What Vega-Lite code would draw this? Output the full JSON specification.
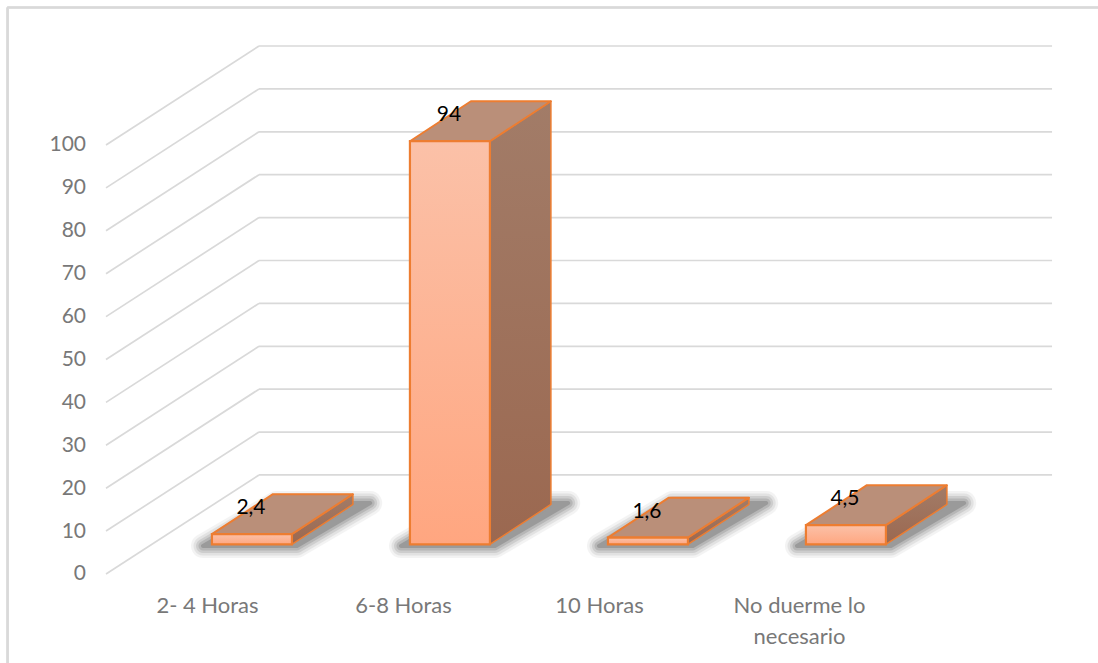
{
  "$schema": "https://vega.github.io/schema/vega-lite/v6.json",
  "width": 1098,
  "height": 663,
  "padding": 0,
  "autosize": {"type": "none"},
  "background": "#ffffff",
  "config": {"view": {"stroke": null}},
  "resolve": {"axis": {"x": "independent", "y": "independent"}},
  "datasets": {
    "horas": [
      {"categoria": "2- 4 Horas", "valor": 2.4},
      {"categoria": "6-8 Horas", "valor": 94},
      {"categoria": "10 Horas", "valor": 1.6},
      {"categoria": "No duerme lo necesario", "valor": 4.5}
    ],
    "marcas": [
      {"marca": 0}, {"marca": 10}, {"marca": 20}, {"marca": 30}, {"marca": 40}, {"marca": 50},
      {"marca": 60}, {"marca": 70}, {"marca": 80}, {"marca": 90}, {"marca": 100}
    ]
  },
  "data": {"name": "horas"},
  "transform": [
    {"window": [{"op": "row_number", "as": "orden"}]},
    {"calculate": "datum.orden - 1 + 0.535", "as": "xIzq"},
    {"calculate": "datum.xIzq + 0.404", "as": "xDer"},
    {"calculate": "6.88", "as": "base"},
    {"calculate": "datum.base + datum.valor", "as": "cima"},
    {"calculate": "[0, 1]", "as": "fondo"},
    {"flatten": ["fondo"]},
    {"calculate": "datum.xIzq + 0.308 * datum.fondo", "as": "xIzqP"},
    {"calculate": "datum.xDer + 0.308 * datum.fondo", "as": "xDerP"},
    {"calculate": "datum.base + 9.32 * datum.fondo", "as": "baseP"},
    {"calculate": "datum.cima + 9.32 * datum.fondo", "as": "cimaP"},
    {"calculate": "datum.xIzq - 0.045 + 0.37 * datum.fondo", "as": "sombraIzq"},
    {"calculate": "datum.xDer + 0.025 + 0.37 * datum.fondo", "as": "sombraDer"},
    {"calculate": "6.53 + 10 * datum.fondo", "as": "sombraY"}
  ],
  "layer": [
    {
      "data": {"name": "marcas"},
      "transform": [
        {"calculate": "datum.marca + 23.08", "as": "marcaFondo"},
        {"calculate": "0", "as": "x0"},
        {"calculate": "0.7727", "as": "x1"}
      ],
      "mark": {"type": "rule", "stroke": "#D9D9D9", "strokeWidth": 1.7},
      "encoding": {
        "x": {
          "field": "x0",
          "type": "quantitative",
          "scale": {"domain": [-0.5354, 5.0101], "nice": false, "zero": false},
          "axis": {
            "title": null,
            "orient": "bottom",
            "offset": -68,
            "values": [0.51, 1.5, 2.49, 3.5],
            "domain": false,
            "ticks": false,
            "grid": false,
            "labelPadding": 0,
            "labelFont": "Lato",
            "labelFontSize": 22,
            "labelColor": "#787878",
            "labelLineHeight": 31,
            "labelOverlap": false,
            "labelBound": false,
            "labelFlush": false,
            "labelExpr": "datum.value < 1 ? '2- 4 Horas' : datum.value < 2 ? '6-8 Horas' : datum.value < 3 ? '10 Horas' : ['No duerme lo', 'necesario']"
          }
        },
        "x2": {"field": "x1"},
        "y": {
          "field": "marca",
          "type": "quantitative",
          "scale": {"domain": [-20.75, 133.8], "nice": false, "zero": false},
          "axis": {
            "title": null,
            "orient": "left",
            "offset": -85.5,
            "values": [0, 10, 20, 30, 40, 50, 60, 70, 80, 90, 100],
            "domain": false,
            "ticks": false,
            "grid": false,
            "labelPadding": 0,
            "labelFont": "Lato",
            "labelFontSize": 21,
            "labelColor": "#787878",
            "labelOverlap": false,
            "labelBound": false,
            "labelFlush": false
          }
        },
        "y2": {"field": "marcaFondo"}
      }
    },
    {
      "data": {"name": "marcas"},
      "transform": [
        {"calculate": "datum.marca + 23.08", "as": "marcaFondo"},
        {"calculate": "0.7727", "as": "x0"},
        {"calculate": "4.778", "as": "x1"}
      ],
      "mark": {"type": "rule", "stroke": "#D9D9D9", "strokeWidth": 1.7},
      "encoding": {
        "x": {"field": "x0", "type": "quantitative", "axis": null},
        "x2": {"field": "x1"},
        "y": {"field": "marcaFondo", "type": "quantitative", "axis": null}
      }
    },
    {
      "mark": {"type": "rule", "stroke": "#D9D9D9", "strokeWidth": 1.5},
      "encoding": {
        "x": {"datum": -0.4975, "type": "quantitative", "axis": null},
        "y": {"datum": 132.05, "type": "quantitative", "axis": null},
        "y2": {"datum": -20.75}
      }
    },
    {
      "mark": {"type": "rule", "stroke": "#D9D9D9", "strokeWidth": 1.5},
      "encoding": {
        "x": {"datum": -0.4975, "type": "quantitative", "axis": null},
        "x2": {"datum": 5.0101},
        "y": {"datum": 132.05, "type": "quantitative", "axis": null}
      }
    },
    {
      "mark": {"type": "area", "orient": "horizontal", "color": "#2E2E2E", "stroke": "#2E2E2E", "strokeWidth": 24, "strokeJoin": "round", "opacity": 0.05},
      "encoding": {
        "x": {"field": "sombraIzq", "type": "quantitative", "axis": null},
        "x2": {"field": "sombraDer"},
        "y": {"field": "sombraY", "type": "quantitative", "axis": null},
        "detail": {"field": "categoria"}
      }
    },
    {
      "mark": {"type": "area", "orient": "horizontal", "color": "#2E2E2E", "stroke": "#2E2E2E", "strokeWidth": 19, "strokeJoin": "round", "opacity": 0.08},
      "encoding": {
        "x": {"field": "sombraIzq", "type": "quantitative", "axis": null},
        "x2": {"field": "sombraDer"},
        "y": {"field": "sombraY", "type": "quantitative", "axis": null},
        "detail": {"field": "categoria"}
      }
    },
    {
      "mark": {"type": "area", "orient": "horizontal", "color": "#2E2E2E", "stroke": "#2E2E2E", "strokeWidth": 14, "strokeJoin": "round", "opacity": 0.11},
      "encoding": {
        "x": {"field": "sombraIzq", "type": "quantitative", "axis": null},
        "x2": {"field": "sombraDer"},
        "y": {"field": "sombraY", "type": "quantitative", "axis": null},
        "detail": {"field": "categoria"}
      }
    },
    {
      "mark": {"type": "area", "orient": "horizontal", "color": "#2E2E2E", "stroke": "#2E2E2E", "strokeWidth": 9, "strokeJoin": "round", "opacity": 0.14},
      "encoding": {
        "x": {"field": "sombraIzq", "type": "quantitative", "axis": null},
        "x2": {"field": "sombraDer"},
        "y": {"field": "sombraY", "type": "quantitative", "axis": null},
        "detail": {"field": "categoria"}
      }
    },
    {
      "mark": {"type": "area", "orient": "horizontal", "color": "#2E2E2E", "stroke": "#2E2E2E", "strokeWidth": 4, "strokeJoin": "round", "opacity": 0.2},
      "encoding": {
        "x": {"field": "sombraIzq", "type": "quantitative", "axis": null},
        "x2": {"field": "sombraDer"},
        "y": {"field": "sombraY", "type": "quantitative", "axis": null},
        "detail": {"field": "categoria"}
      }
    },
    {
      "mark": {
        "type": "area",
        "orient": "vertical",
        "stroke": "#ED7D31",
        "strokeWidth": 1.5,
        "strokeJoin": "round",
        "color": {
          "x1": 0, "y1": 0, "x2": 0, "y2": 1,
          "gradient": "linear",
          "stops": [{"offset": 0, "color": "#A27C68"}, {"offset": 1, "color": "#9B6850"}]
        }
      },
      "encoding": {
        "x": {"field": "xDerP", "type": "quantitative", "axis": null},
        "y": {"field": "baseP", "type": "quantitative", "axis": null},
        "y2": {"field": "cimaP"},
        "detail": {"field": "categoria"}
      }
    },
    {
      "mark": {"type": "area", "orient": "horizontal", "color": "#BA8F79", "stroke": "#ED7D31", "strokeWidth": 2, "strokeJoin": "round"},
      "encoding": {
        "x": {"field": "xIzqP", "type": "quantitative", "axis": null},
        "x2": {"field": "xDerP"},
        "y": {"field": "cimaP", "type": "quantitative", "axis": null},
        "detail": {"field": "categoria"}
      }
    },
    {
      "transform": [{"filter": "datum.fondo === 0"}],
      "mark": {
        "type": "rect",
        "stroke": "#ED7D31",
        "strokeWidth": 2.2,
        "color": {
          "x1": 0, "y1": 0, "x2": 0, "y2": 1,
          "gradient": "linear",
          "stops": [{"offset": 0, "color": "#FBC1A8"}, {"offset": 1, "color": "#FFA680"}]
        }
      },
      "encoding": {
        "x": {"field": "xIzq", "type": "quantitative", "axis": null},
        "x2": {"field": "xDer"},
        "y": {"field": "base", "type": "quantitative", "axis": null},
        "y2": {"field": "cima"}
      }
    },
    {
      "transform": [
        {"filter": "datum.fondo === 0"},
        {"calculate": "replace(format(datum.valor, '.2~f'), '.', ',')", "as": "etiqueta"},
        {"calculate": "datum.cima + 6", "as": "yEtiqueta"},
        {"calculate": "(datum.xIzq + datum.xDer) / 2 - 0.005", "as": "xEtiqueta"}
      ],
      "mark": {"type": "text", "font": "Lato", "fontSize": 21, "color": "#000000", "align": "center", "baseline": "middle"},
      "encoding": {
        "x": {"field": "xEtiqueta", "type": "quantitative", "axis": null},
        "y": {"field": "yEtiqueta", "type": "quantitative", "axis": null},
        "text": {"field": "etiqueta"}
      }
    }
  ]
}
